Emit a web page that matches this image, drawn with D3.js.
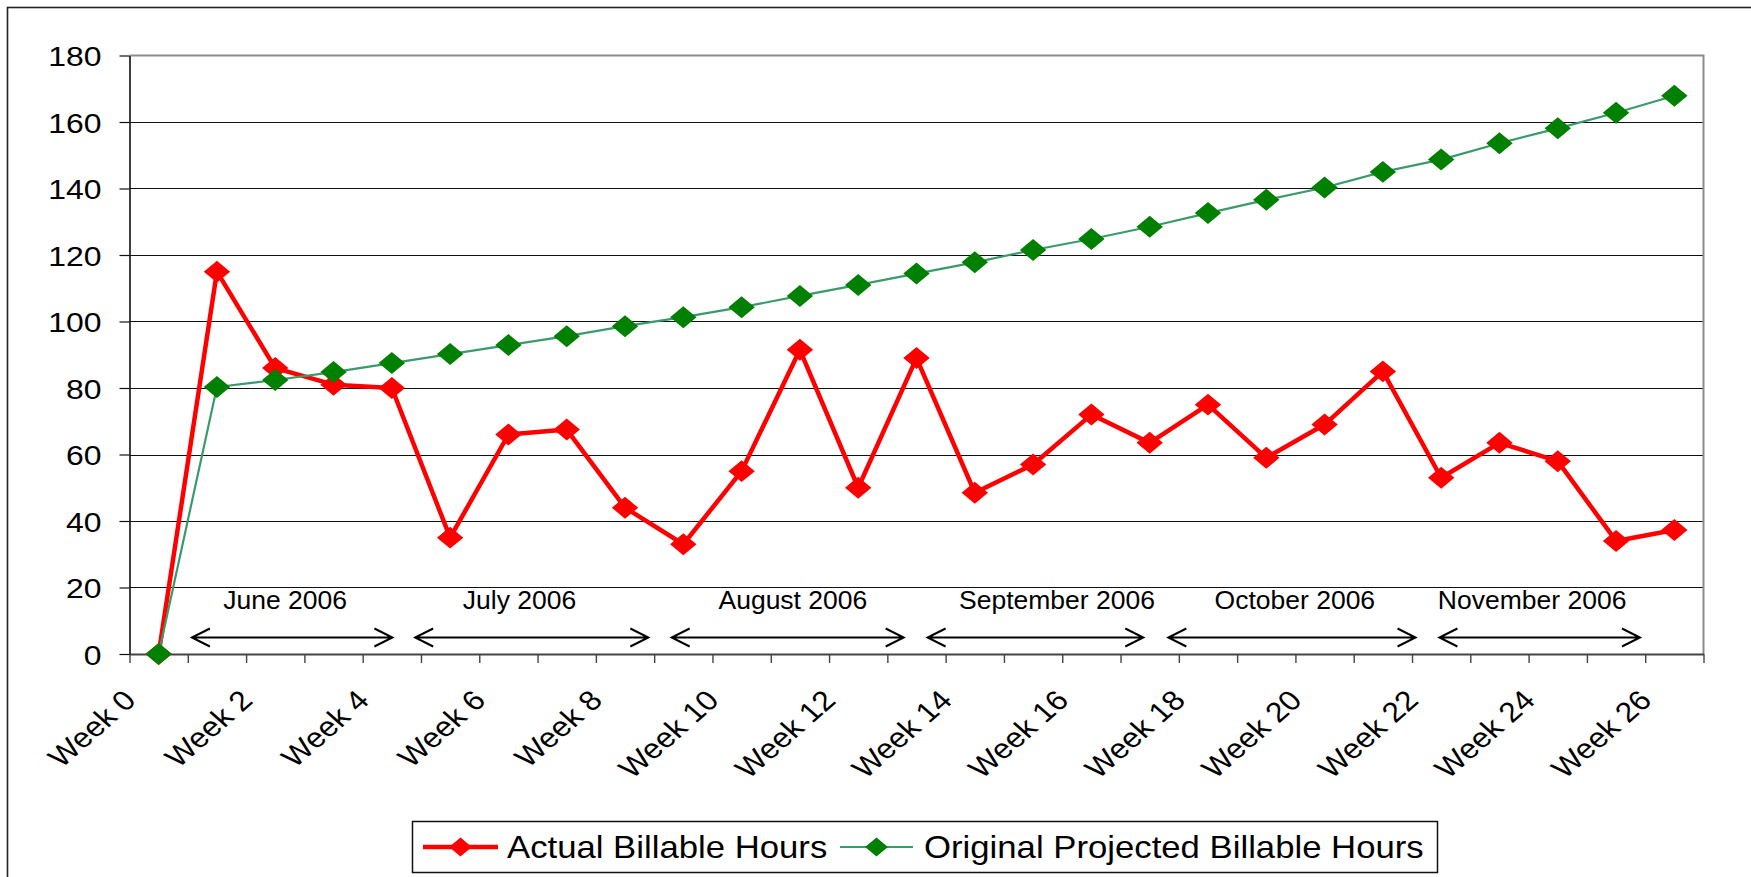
<!DOCTYPE html>
<html>
<head>
<meta charset="utf-8">
<script src="https://cdn.jsdelivr.net/npm/d3@7/dist/d3.min.js"></script>
<style>
	body { margin: 0; background: #fff; }
	svg { display: block; font-family: "Liberation Sans", Arial, sans-serif; }
</style>
</head>
<body>
<div id="chart"></div>
<script>
const weeks = ["Week 0", "Week 1", "Week 2", "Week 3", "Week 4", "Week 5", "Week 6", "Week 7", "Week 8",
	"Week 9", "Week 10", "Week 11", "Week 12", "Week 13", "Week 14", "Week 15", "Week 16", "Week 17",
	"Week 18", "Week 19", "Week 20", "Week 21", "Week 22", "Week 23", "Week 24", "Week 25", "Week 26"];
const weekLabels = ["Week 0", "Week 2", "Week 4", "Week 6", "Week 8", "Week 10", "Week 12", "Week 14",
	"Week 16", "Week 18", "Week 20", "Week 22", "Week 24", "Week 26"];
const actualHours = [0, 115, 86, 81, 80, 35, 66, 67.5, 44, 33, 55, 91.5, 50, 89, 48.5, 57, 72, 63.5,
	75, 59, 69, 85, 53, 63.5, 58, 34, 37.3];
const projectedHours = [0, 80.3, 82.4, 84.8, 87.5, 90.2, 92.9, 95.6, 98.6, 101.3, 104.3, 107.7, 111,
	114.4, 117.8, 121.5, 124.8, 128.5, 132.6, 136.6, 140.3, 145, 148.7, 153.6, 158.1, 162.8, 167.9];
const yTicks = [0, 20, 40, 60, 80, 100, 120, 140, 160, 180];

// month spans, in week units along the axis (0 = left edge of Week 0)
const months = ["June 2006", "July 2006", "August 2006", "September 2006", "October 2006", "November 2006"];
const monthStart = [1.07, 4.9, 9.3, 13.69, 17.82, 22.47];
const monthEnd = [4.51, 8.9, 13.28, 17.39, 22.06, 25.91];
const monthMid = [2.67, 6.69, 11.38, 15.91, 19.99, 24.06];

const seriesNames = ["Actual Billable Hours", "Original Projected Billable Hours"];

const width = 1751;
const height = 877;
const margin = ({ top: 55.5, right: 47.5, bottom: 223, left: 129.5 });
const stretch = 1.14;

const x = d3.scaleBand()
	.domain(weeks)
	.range([margin.left, width - margin.right]);

const xl = d3.scaleLinear()
	.domain([0, weeks.length])
	.range(x.range());

const y = d3.scaleLinear()
	.domain([0, 180])
	.range([height - margin.bottom, margin.top]);

const cx = d => x(d) + x.bandwidth() / 2;

const svg = d3.select("#chart")
	.append("svg")
	.attr("width", width)
	.attr("height", height)
	.attr("viewBox", [0, 0, width, height]);

svg.append("rect")
	.attr("width", width)
	.attr("height", height)
	.attr("fill", "#fff");

// outer chart frame (runs off the right and bottom of the picture)
svg.append("rect")
	.attr("x", 7.5)
	.attr("y", 7.5)
	.attr("width", width + 40)
	.attr("height", height + 40)
	.attr("fill", "none")
	.attr("stroke", "#222")
	.attr("stroke-width", 1.6);

// gridlines
svg.append("g")
	.selectAll("line")
	.data(yTicks.filter(d => d > 0 && d < 180))
	.join("line")
	.attr("x1", margin.left)
	.attr("x2", width - margin.right)
	.attr("y1", d => Math.round(y(d)) + 0.5)
	.attr("y2", d => Math.round(y(d)) + 0.5)
	.attr("stroke", "#111")
	.attr("stroke-width", 1.1);

// plot border, top and right
svg.append("path")
	.attr("fill", "none")
	.attr("stroke", "#8c8c8c")
	.attr("stroke-width", 2)
	.attr("d", `M${margin.left},${y(180)}H${width - margin.right}V${y(0)}`);

const yAxis = g => g
	.attr("transform", `translate(${margin.left},0)`)
	.call(d3.axisLeft(y).tickValues(yTicks).tickSize(10).tickSizeOuter(0))
	.call(g => g.select(".domain").attr("stroke", "#111").attr("stroke-width", 1.6))
	.call(g => g.selectAll(".tick line").attr("stroke", "#111").attr("stroke-width", 1.2))
	.call(g => g.selectAll(".tick text")
		.attr("x", null)
		.attr("dy", "0.36em")
		.attr("fill", "#000")
		.attr("font-size", 28)
		.attr("transform", `translate(-28,0) scale(${stretch},1)`));

const xTicks = g => g
	.attr("transform", `translate(0,${y(0)})`)
	.call(d3.axisBottom(xl).tickValues(d3.range(weeks.length + 1)).tickFormat("").tickSize(9).tickSizeOuter(0))
	.call(g => g.select(".domain").attr("stroke", "#444").attr("stroke-width", 1.8))
	.call(g => g.selectAll(".tick line").attr("stroke", "#444").attr("stroke-width", 1.4));

const xLabels = g => g
	.attr("transform", `translate(0,${y(0)})`)
	.call(d3.axisBottom(x).tickValues(weekLabels).tickSize(0))
	.call(g => g.select(".domain").remove())
	.call(g => g.selectAll(".tick text")
		.attr("y", null)
		.attr("dy", null)
		.attr("fill", "#000")
		.attr("font-size", 28)
		.attr("text-anchor", "end")
		.attr("transform", `translate(-21,48) scale(${stretch},1) rotate(-45)`));

svg.append("g").call(xTicks);
svg.append("g").call(yAxis);
svg.append("g").call(xLabels);

// month annotations
const monthG = svg.append("g");
const ay = 637.5;

monthG.selectAll("text")
	.data(months)
	.join("text")
	.attr("x", (d, i) => xl(monthMid[i]))
	.attr("y", 609)
	.attr("text-anchor", "middle")
	.attr("font-size", 26.5)
	.attr("fill", "#000")
	.text(d => d);

monthG.selectAll("path")
	.data(months)
	.join("path")
	.attr("fill", "none")
	.attr("stroke", "#000")
	.attr("stroke-width", 2)
	.attr("d", (d, i) => {
		const a = xl(monthStart[i]), b = xl(monthEnd[i]);
		return `M${a + 18},${ay - 9}L${a},${ay}L${a + 18},${ay + 9}` +
			`M${a},${ay}H${b}` +
			`M${b - 18},${ay - 9}L${b},${ay}L${b - 18},${ay + 9}`;
	});

// series
const line = d3.line()
	.x((d, i) => cx(weeks[i]))
	.y(d => y(d));

const diamond = d3.symbol(d3.symbolSquare, 242);
const marker = (px, py) => `translate(${px},${py}) scale(1.2,1) rotate(45)`;

const series = [
	{ values: actualHours, lineColor: "#ff0000", markColor: "#ff0000", width: 4.5 },
	{ values: projectedHours, lineColor: "#3a9a6c", markColor: "#008000", width: 2.2 }
];

series.forEach(s => {
	svg.append("path")
		.datum(s.values)
		.attr("fill", "none")
		.attr("stroke", s.lineColor)
		.attr("stroke-width", s.width)
		.attr("stroke-linejoin", "round")
		.attr("d", line);

	svg.append("g")
		.selectAll("path")
		.data(s.values)
		.join("path")
		.attr("d", diamond)
		.attr("fill", s.markColor)
		.attr("transform", (d, i) => marker(cx(weeks[i]), y(d)));
});

// legend
const legend = svg.append("g");

legend.append("rect")
	.attr("x", 412.5)
	.attr("y", 821.5)
	.attr("width", 1025)
	.attr("height", 51)
	.attr("fill", "#fff")
	.attr("stroke", "#111")
	.attr("stroke-width", 1.5);

const legendItems = [
	{ name: seriesNames[0], x0: 423, x1: 498, tx: 507, s: series[0] },
	{ name: seriesNames[1], x0: 840, x1: 913, tx: 924, s: series[1] }
];
const ly = 847;
const legendDiamond = d3.symbol(d3.symbolSquare, 180);

legendItems.forEach(d => {
	legend.append("line")
		.attr("x1", d.x0)
		.attr("x2", d.x1)
		.attr("y1", ly)
		.attr("y2", ly)
		.attr("stroke", d.s.lineColor)
		.attr("stroke-width", d.s.width);
	legend.append("path")
		.attr("d", legendDiamond)
		.attr("fill", d.s.markColor)
		.attr("transform", marker((d.x0 + d.x1) / 2, ly));
	legend.append("text")
		.attr("transform", `translate(${d.tx},${ly}) scale(1.12,1)`)
		.attr("dy", "0.36em")
		.attr("font-size", 31)
		.attr("fill", "#000")
		.text(d.name);
});
</script>
</body>
</html>
